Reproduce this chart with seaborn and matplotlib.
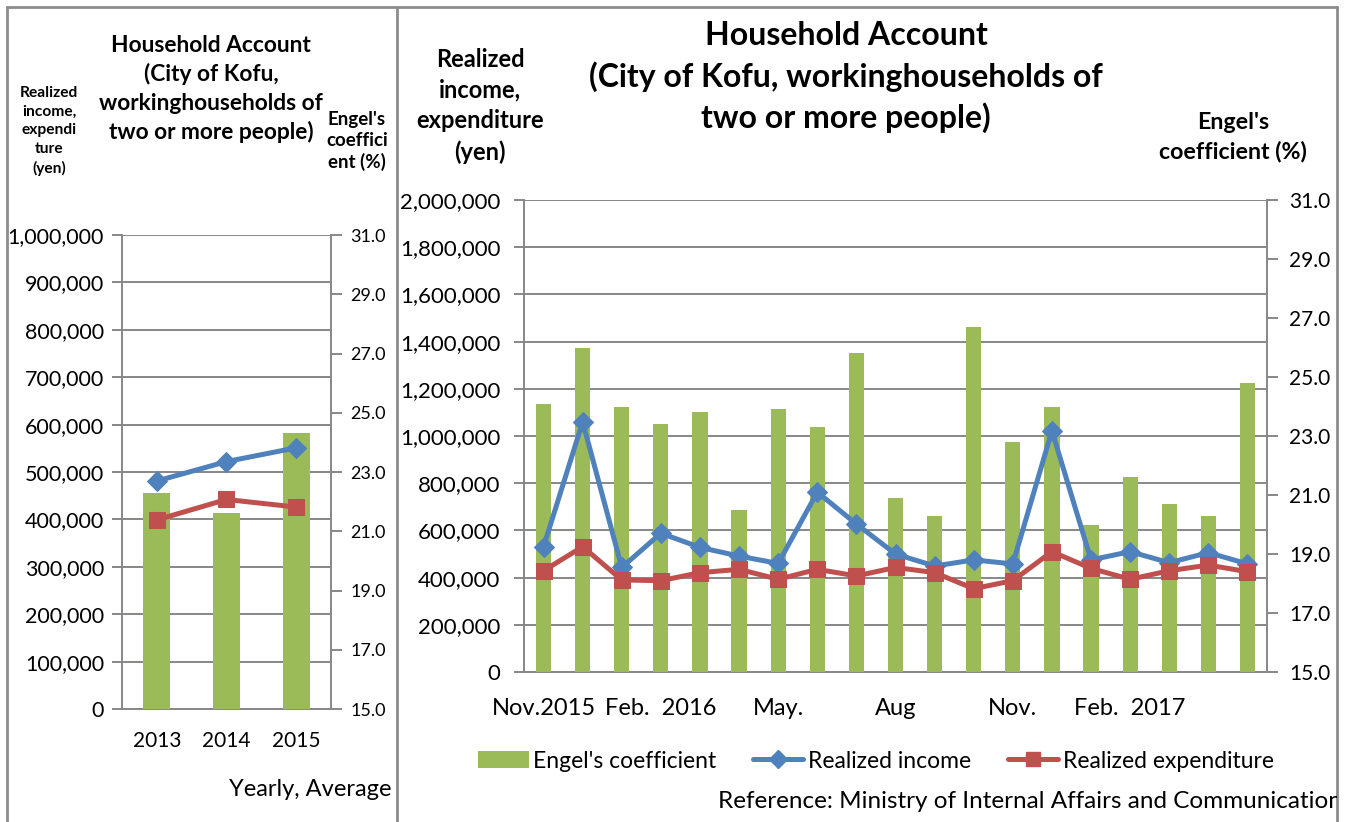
"""Household account of Kofu city: yearly averages and monthly figures.

Two Excel-style combo charts side by side: Engel's coefficient as bars on the
right axis, realized income and expenditure as marker lines on the left axis.
"""

from __future__ import annotations

import matplotlib.pyplot as plt
import numpy as np
import pandas as pd
import seaborn as sns
from matplotlib.lines import Line2D
from matplotlib.patches import Patch
from matplotlib.ticker import FuncFormatter, MultipleLocator
from matplotlib.transforms import Bbox, TransformedBbox

W, H = 1353, 822
GREEN = "#9BBB59"
BLUE = "#4F81BD"
RED = "#C0504D"
GRID = "#878787"
FRAME = "#8C8C8C"

# yearly averages
YEARS = ["2013", "2014", "2015"]
YEAR_ENGEL = [22.3, 21.6, 24.3]
YEAR_INCOME = [481000, 522000, 551000]
YEAR_EXPENDITURE = [399000, 442000, 426000]

# monthly, Nov. 2015 - May 2017
MONTHS = [
    "2015-11", "2015-12", "2016-01", "2016-02", "2016-03", "2016-04", "2016-05",
    "2016-06", "2016-07", "2016-08", "2016-09", "2016-10", "2016-11", "2016-12",
    "2017-01", "2017-02", "2017-03", "2017-04", "2017-05",
]
MONTH_LABELS = [
    "Nov.2015", "", "", "Feb.  2016", "", "", "May.", "", "", "Aug", "", "",
    "Nov.", "", "", "Feb.  2017", "", "", "",
]
MONTH_ENGEL = [
    24.1, 26.0, 24.0, 23.4, 23.8, 20.5, 23.9, 23.3, 25.8, 20.9,
    20.3, 26.7, 22.8, 24.0, 20.0, 21.6, 20.7, 20.3, 24.8,
]
MONTH_INCOME = [
    531000, 1060000, 443000, 588000, 528000, 491000, 460000, 762000, 627000, 500000,
    449000, 475000, 458000, 1022000, 475000, 510000, 463000, 506000, 458000,
]
MONTH_EXPENDITURE = [
    429000, 531000, 390000, 387000, 421000, 435000, 393000, 435000, 407000, 443000,
    421000, 353000, 387000, 510000, 439000, 393000, 429000, 453000, 425000,
]
ENGEL_TICKS = [15, 17, 19, 21, 23, 25, 27, 29, 31]


def fx(px: float) -> float:
    return px / W


def fy(py: float) -> float:
    return 1 - py / H


def combo_chart(fig, rect, cats, labels, engel, income, expend, ymax, ystep, sizes, pads):
    """Draw one bar+line combo chart and return its base axes.

    sizes: (yen tick size, engel tick size, category label size)
    pads: (yen pad, engel pad, category pad)
    """

    n = len(cats)
    frame = pd.DataFrame({"cat": cats, "pos": np.arange(n), "engel": engel,
                          "income": income, "expend": expend})

    ax = fig.add_axes(rect)
    ax_bar = ax.twinx()
    ax_line = ax.twinx()

    sns.barplot(data=frame, x="cat", y="engel", ax=ax_bar, color=GREEN,
                saturation=1, width=0.39, edgecolor="none")
    sns.lineplot(data=frame, x="pos", y="income", ax=ax_line, color=BLUE,
                 linewidth=3.6, marker="D", markersize=10, markeredgecolor=BLUE)
    sns.lineplot(data=frame, x="pos", y="expend", ax=ax_line, color=RED,
                 linewidth=3.6, marker="s", markersize=12, markeredgecolor=RED)

    for a in (ax, ax_bar, ax_line):
        a.set_xlim(-0.5, n - 0.5)
        a.set_xlabel("")
        a.set_ylabel("")

    # secondary (Engel) axis
    ax_bar.set_ylim(15, 31)
    ax_bar.set_yticks(ENGEL_TICKS)
    ax_bar.yaxis.set_major_formatter(FuncFormatter(lambda v, _: f"{v:.1f}"))
    ax_bar.tick_params(axis="y", direction="out", length=8, width=1.4, color=GRID,
                       labelsize=sizes[1], pad=pads[1])
    ax_bar.tick_params(axis="x", which="both", length=0, labelbottom=False)
    for side in ("top", "left", "bottom"):
        ax_bar.spines[side].set_visible(False)
    ax_bar.spines["right"].set_color(GRID)
    ax_bar.spines["right"].set_linewidth(1.4)

    # primary (yen) axis with gridlines
    ax.set_ylim(0, ymax)
    ax.yaxis.set_major_locator(MultipleLocator(ystep))
    ax.yaxis.set_major_formatter(FuncFormatter(lambda v, _: f"{v:,.0f}"))
    ax.grid(axis="y", color=GRID, linewidth=1.4)
    ax.set_axisbelow(True)
    ax.tick_params(axis="y", which="major", direction="out", length=7, width=1.4,
                   color=GRID, labelsize=sizes[0], pad=pads[0])
    ax.set_xticks(np.arange(-0.5, n, 1.0))
    ax.set_xticklabels([])
    ax.set_xticks(np.arange(n), labels=labels, minor=True)
    ax.tick_params(axis="x", which="major", direction="out", length=8, width=1.4, color=GRID)
    ax.tick_params(axis="x", which="minor", length=0, labelsize=sizes[2], pad=pads[2])
    for side in ("top", "right"):
        ax.spines[side].set_visible(False)
    for side in ("left", "bottom"):
        ax.spines[side].set_color(GRID)
        ax.spines[side].set_linewidth(1.4)

    ax_line.set_ylim(0, ymax)
    ax_line.axis("off")
    if ax_line.get_legend():
        ax_line.get_legend().remove()
    return ax


def main() -> None:
    sns.set_theme(style="white")
    plt.rcParams["font.family"] = ["Lato", "DejaVu Sans"]
    plt.rcParams["text.color"] = "black"
    plt.rcParams["xtick.color"] = "black"
    plt.rcParams["ytick.color"] = "black"

    fig = plt.figure(figsize=(W / 100, H / 100), dpi=100)

    # panel frames
    for x in (7, 397, 1337):
        fig.add_artist(Line2D([fx(x), fx(x)], [fy(7), 0], color=FRAME, linewidth=2))
    fig.add_artist(Line2D([fx(7), fx(1337)], [fy(7), fy(7)], color=FRAME, linewidth=2))

    # left: yearly
    combo_chart(fig, [fx(122), fy(709), fx(331) - fx(122), fy(235) - fy(709)],
                YEARS, YEARS, YEAR_ENGEL, YEAR_INCOME, YEAR_EXPENDITURE,
                1_000_000, 100_000, (15.5, 13, 15), (6, 6, 15.5))
    # right: monthly
    combo_chart(fig, [fx(524), fy(672), fx(1267) - fx(524), fy(200) - fy(672)],
                MONTHS, MONTH_LABELS, MONTH_ENGEL, MONTH_INCOME, MONTH_EXPENDITURE,
                2_000_000, 200_000, (16, 15, 17), (10, 8, 19))

    # left texts
    fig.text(fx(211), fy(89), "Household Account\n(City of Kofu,\nworkinghouseholds of\ntwo or more people)",
             ha="center", va="center", fontsize=16.4, fontweight="bold", linespacing=1.42)
    fig.text(fx(49), fy(131), "Realized\nincome,\nexpendi\nture\n(yen)",
             ha="center", va="center", fontsize=11.2, fontweight="bold", linespacing=1.4)
    fig.text(fx(357), fy(141), "Engel's\ncoeffici\nent (%)",
             ha="center", va="center", fontsize=13.5, fontweight="bold", linespacing=1.3)
    left_clip = TransformedBbox(Bbox([[fx(7), 0], [fx(397), 1]]), fig.transFigure)
    t = fig.text(fx(229), fy(789), "Yearly, Average values", ha="left", va="center", fontsize=17)
    t.set_clip_box(left_clip)
    t.set_clip_on(True)

    # right texts
    fig.text(fx(846), fy(77), "Household Account\n(City of Kofu, workinghouseholds of\ntwo or more people)",
             ha="center", va="center", fontsize=23, fontweight="bold", linespacing=1.4)
    fig.text(fx(480), fy(106), "Realized\nincome,\nexpenditure\n(yen)",
             ha="center", va="center", fontsize=17, fontweight="bold", linespacing=1.4)
    fig.text(fx(1233), fy(137), "Engel's\ncoefficient (%)",
             ha="center", va="center", fontsize=16.7, fontweight="bold", linespacing=1.4)
    right_clip = TransformedBbox(Bbox([[fx(397), 0], [fx(1337), 1]]), fig.transFigure)
    t = fig.text(fx(718), fy(801), "Reference: Ministry of Internal Affairs and Communications",
                 ha="left", va="center", fontsize=17.5)
    t.set_clip_box(right_clip)
    t.set_clip_on(True)

    handles = [
        Patch(facecolor=GREEN, edgecolor="none"),
        Line2D([], [], color=BLUE, linewidth=3.6, marker="D", markersize=9),
        Line2D([], [], color=RED, linewidth=3.6, marker="s", markersize=10),
    ]
    fig.legend(handles, ["Engel's coefficient", "Realized income", "Realized expenditure"],
               loc="center", bbox_to_anchor=(fx(876), fy(761)), ncol=3, frameon=False,
               fontsize=16.5, handlelength=2.2, handletextpad=0.2, columnspacing=1.6,
               handleheight=0.7)

    fig.savefig("out.png", dpi=100, facecolor="white")
    plt.close(fig)


if __name__ == "__main__":
    main()
